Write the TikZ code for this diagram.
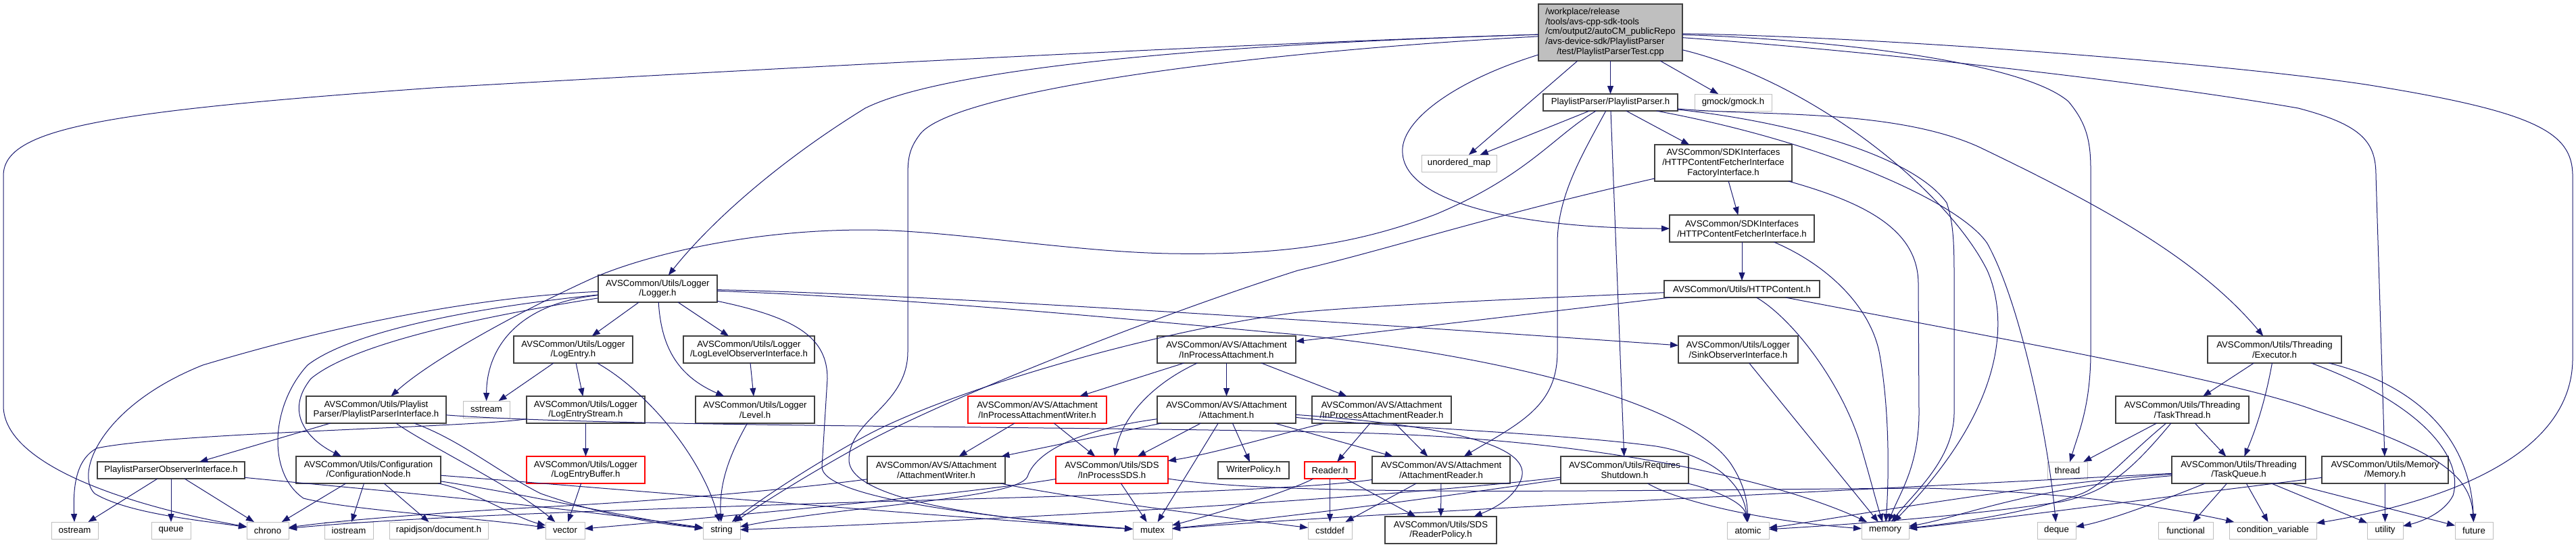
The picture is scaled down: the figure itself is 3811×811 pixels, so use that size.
\documentclass[tikz,border=0pt]{standalone}
\usepackage{fontspec}
\setmainfont{Liberation Sans}
\usetikzlibrary{arrows.meta}
\definecolor{eb}{HTML}{191970}
\definecolor{gb}{HTML}{BFBFBF}
\definecolor{bb}{HTML}{404040}
\tikzset{
 nb/.style={draw=bb, line width=0.6pt, rectangle, inner sep=0pt, outer sep=0pt, align=center, font=\fontsize{6.6pt}{7.4pt}\selectfont},
 sysb/.style={nb, draw=gb, line width=0.5pt},
 redb/.style={nb, draw=red},
 e/.style={draw=eb, line width=0.5pt, -{Triangle[length=6pt,width=4.5pt]}},
}
\begin{document}
\begin{tikzpicture}[x=0.5pt,y=-0.5pt]
\useasboundingbox (0,0) rectangle (3811,811);
\fill[white] (0,0) rectangle (3811,811);
% nodes
\node[nb, fill=gb, minimum width=106.5pt, minimum height=42pt] (main) at (2382.5,48) {\begin{tabular}{@{}l@{}}/workplace/release\\/tools/avs-cpp-sdk-tools\\/cm/output2/autoCM\_publicRepo\\/avs-device-sdk/PlaylistParser\\\multicolumn{1}{@{}c@{}}{/test/PlaylistParserTest.cpp}\end{tabular}};
\node[nb, minimum width=99.5pt, minimum height=12.5pt] (pp) at (2382.5,151.5) {PlaylistParser/PlaylistParser.h};
\node[sysb, minimum width=57pt, minimum height=12.5pt] (gmock) at (2564,151.5) {gmock/gmock.h};
\node[sysb, minimum width=55.5pt, minimum height=12.5pt] (umap) at (2158.5,241.5) {unordered\_map};
\node[nb, minimum width=101.5pt, minimum height=27pt] (fact) at (2549.5,241) {AVSCommon/SDKInterfaces\\/HTTPContentFetcherInterface\\FactoryInterface.h};
\node[nb, minimum width=107pt, minimum height=20pt] (hcfi) at (2577,338) {AVSCommon/SDKInterfaces\\/HTTPContentFetcherInterface.h};
\node[nb, minimum width=115pt, minimum height=12.5pt] (hc) at (2577,427.5) {AVSCommon/Utils/HTTPContent.h};
\node[nb, minimum width=88.5pt, minimum height=20pt] (sink) at (2571.5,517) {AVSCommon/Utils/Logger\\/SinkObserverInterface.h};
\node[nb, minimum width=88pt, minimum height=20pt] (logger) at (973,427) {AVSCommon/Utils/Logger\\/Logger.h};
\node[nb, minimum width=88pt, minimum height=20pt] (logentry) at (848,517) {AVSCommon/Utils/Logger\\/LogEntry.h};
\node[nb, minimum width=97pt, minimum height=20pt] (loglevelobs) at (1108,517) {AVSCommon/Utils/Logger\\/LogLevelObserverInterface.h};
\node[sysb, minimum width=34.5pt, minimum height=12.5pt] (sstream) at (719.5,605.5) {sstream};
\node[nb, minimum width=87.5pt, minimum height=20pt] (logentrystream) at (866.5,606) {AVSCommon/Utils/Logger\\/LogEntryStream.h};
\node[nb, minimum width=88pt, minimum height=20pt] (level) at (1117,606) {AVSCommon/Utils/Logger\\/Level.h};
\node[redb, minimum width=87.5pt, minimum height=20pt] (logentrybuf) at (866.5,695) {AVSCommon/Utils/Logger\\/LogEntryBuffer.h};
\node[nb, minimum width=103.5pt, minimum height=20pt] (ppi) at (556.5,606) {AVSCommon/Utils/Playlist\\Parser/PlaylistParserInterface.h};
\node[nb, minimum width=107pt, minimum height=20pt] (confnode) at (545,695) {AVSCommon/Utils/Configuration\\/ConfigurationNode.h};
\node[nb, minimum width=109pt, minimum height=12.5pt] (ppobs) at (253,695.5) {PlaylistParserObserverInterface.h};
\node[nb, minimum width=102.5pt, minimum height=20pt] (ipa) at (1814.5,517) {AVSCommon/AVS/Attachment\\/InProcessAttachment.h};
\node[redb, minimum width=102.5pt, minimum height=20pt] (ipaw) at (1534.5,606) {AVSCommon/AVS/Attachment\\/InProcessAttachmentWriter.h};
\node[nb, minimum width=102.5pt, minimum height=20pt] (att) at (1814.5,606) {AVSCommon/AVS/Attachment\\/Attachment.h};
\node[nb, minimum width=103pt, minimum height=20pt] (ipar) at (2044,606) {AVSCommon/AVS/Attachment\\/InProcessAttachmentReader.h};
\node[nb, minimum width=102pt, minimum height=20pt] (aw) at (1385,695) {AVSCommon/AVS/Attachment\\/AttachmentWriter.h};
\node[redb, minimum width=83pt, minimum height=20pt] (ipsds) at (1645,695) {AVSCommon/Utils/SDS\\/InProcessSDS.h};
\node[nb, minimum width=52.5pt, minimum height=12.5pt] (wp) at (1854.5,695.5) {WriterPolicy.h};
\node[redb, minimum width=37.5pt, minimum height=12.5pt] (reader) at (1967.5,695.5) {Reader.h};
\node[nb, minimum width=102pt, minimum height=20pt] (ar) at (2132,695) {AVSCommon/AVS/Attachment\\/AttachmentReader.h};
\node[nb, minimum width=94.5pt, minimum height=20pt] (rs) at (2403.5,695) {AVSCommon/Utils/Requires\\Shutdown.h};
\node[nb, minimum width=82.5pt, minimum height=20pt] (rp) at (2131.5,784) {AVSCommon/Utils/SDS\\/ReaderPolicy.h};
\node[nb, minimum width=99pt, minimum height=20pt] (exec) at (3365,517) {AVSCommon/Utils/Threading\\/Executor.h};
\node[nb, minimum width=98.5pt, minimum height=20pt] (tthread) at (3228.5,606) {AVSCommon/Utils/Threading\\/TaskThread.h};
\node[nb, minimum width=99pt, minimum height=20pt] (tqueue) at (3312,695) {AVSCommon/Utils/Threading\\/TaskQueue.h};
\node[nb, minimum width=93.5pt, minimum height=20pt] (memh) at (3528.5,695) {AVSCommon/Utils/Memory\\/Memory.h};
\node[sysb, minimum width=29.5pt, minimum height=12.5pt] (thread) at (3058.5,695.5) {thread};
\node[sysb, minimum width=34.5pt, minimum height=12.5pt] (ostream) at (110.5,784.5) {ostream};
\node[sysb, minimum width=29pt, minimum height=12.5pt] (queue) at (253,784.5) {queue};
\node[sysb, minimum width=31pt, minimum height=12.5pt] (chrono) at (396,784.5) {chrono};
\node[sysb, minimum width=36pt, minimum height=12.5pt] (iostream) at (516,784.5) {iostream};
\node[sysb, minimum width=73pt, minimum height=12.5pt] (rapidjson) at (649,784.5) {rapidjson/document.h};
\node[sysb, minimum width=29pt, minimum height=12.5pt] (vector) at (836,784.5) {vector};
\node[sysb, minimum width=27.5pt, minimum height=12.5pt] (string) at (1067.5,784.5) {string};
\node[sysb, minimum width=29pt, minimum height=12.5pt] (mutex) at (1705,784.5) {mutex};
\node[sysb, minimum width=32.5pt, minimum height=12.5pt] (cstddef) at (1967.5,784.5) {cstddef};
\node[sysb, minimum width=31pt, minimum height=12.5pt] (atomic) at (2586,784.5) {atomic};
\node[sysb, minimum width=35pt, minimum height=12.5pt] (memory) at (2789,784.5) {memory};
\node[sysb, minimum width=28.5pt, minimum height=12.5pt] (deque) at (3042.5,784.5) {deque};
\node[sysb, minimum width=40.5pt, minimum height=12.5pt] (functional) at (3233.5,784.5) {functional};
\node[sysb, minimum width=64.5pt, minimum height=12.5pt] (condvar) at (3362.5,784.5) {condition\_variable};
\node[sysb, minimum width=26.5pt, minimum height=12.5pt] (utility) at (3528.5,784.5) {utility};
\node[sysb, minimum width=28pt, minimum height=12.5pt] (future) at (3660,784.5) {future};
% edges from main
\draw[e] (main) .. controls (1900,62) and (1250,95) .. (640,130) .. controls (150,165) and (5,190) .. (5,260) -- (5,600) .. controls (5,690) and (200,750) .. (chrono);
\draw[e] (main) .. controls (1700,68) and (1380,110) .. (1280,160) .. controls (1150,240) and (1050,330) .. (logger);
\draw[e] (main) .. controls (1800,80) and (1400,140) .. (1360,200) .. controls (1345,220) and (1343,235) .. (1343,260) -- (1343,520) .. controls (1343,600) and (1256,620) .. (1256,680) .. controls (1256,745) and (1500,770) .. (mutex);
\draw[e] (main) .. controls (2150,120) and (2070,180) .. (2075,227) .. controls (2080,300) and (2250,338) .. (hcfi);
\draw[e] (main) -- (umap);
\draw[e] (main) -- (pp);
\draw[e] (main) -- (gmock);
\draw[e] (main) .. controls (2800,55) and (3300,95) .. (3500,125) .. controls (3750,165) and (3806,195) .. (3806,260) -- (3806,530) .. controls (3806,680) and (3600,745) .. (condvar);
\draw[e] (main) .. controls (2800,78) and (3200,125) .. (3400,160) .. controls (3495,185) and (3515,210) .. (3515,260) -- (memh);
\draw[e] (main) .. controls (2700,58) and (2990,90) .. (3060,150) .. controls (3085,180) and (3093,205) .. (3093,250) -- (3093,520) .. controls (3093,600) and (3075,640) .. (thread);
\draw[e] (main) .. controls (2680,120) and (2880,280) .. (2940,400) .. controls (2975,480) and (2960,610) .. (memory);
% pp
\draw[e] (pp) -- (umap);
\draw[e] (pp) .. controls (2300,200) and (2260,260) .. (2124,317) .. controls (2010,360) and (1900,378) .. (1729,375) .. controls (1580,372) and (1400,340) .. (1280,340) .. controls (1100,340) and (950,380) .. (880,410) .. controls (780,455) and (640,530) .. (ppi);
\draw[e] (pp) .. controls (2340,230) and (2304,290) .. (2304,360) -- (2304,520) .. controls (2304,600) and (2250,625) .. (ar);
\draw[e] (pp) -- (rs);
\draw[e] (pp) -- (fact);
\draw[e] (pp) .. controls (2600,172) and (2800,160) .. (2927,217) .. controls (3100,300) and (3250,380) .. (exec);
\draw[e] (pp) .. controls (2650,180) and (2830,230) .. (2880,300) .. controls (2890,330) and (2891,360) .. (2891,410) -- (2891,610) .. controls (2891,680) and (2830,730) .. (memory);
\draw[e] (pp) .. controls (2700,210) and (2900,300) .. (2940,360) .. controls (2990,450) and (3030,650) .. (deque);
% fact, hcfi, hc, sink
\draw[e] (fact) -- (hcfi);
\draw[e] (fact) .. controls (2760,300) and (2838,340) .. (2838,420) -- (2839,610) .. controls (2839,690) and (2810,730) .. (memory);
\draw[e] (fact) .. controls (2200,320) and (2050,370) .. (1920,400) .. controls (1700,470) and (1400,590) .. (1280,655) .. controls (1180,710) and (1120,750) .. (string);
\draw[e] (hcfi) -- (hc);
\draw[e] (hcfi) .. controls (2700,390) and (2765,450) .. (2780,520) .. controls (2795,600) and (2795,700) .. (memory);
\draw[e] (hc) -- (ipa);
\draw[e] (hc) .. controls (2300,440) and (2050,450) .. (1920,462) .. controls (1700,490) and (1400,580) .. (1280,645) .. controls (1180,700) and (1110,750) .. (string);
\draw[e] (hc) .. controls (2650,470) and (2720,560) .. (2750,650) .. controls (2765,700) and (2775,740) .. (memory);
\draw[e] (hc) .. controls (2900,490) and (3300,560) .. (3425,607) .. controls (3600,665) and (3655,700) .. (future);
\draw[e] (sink) -- (memory);
% logger
\draw[e] (logger) -- (logentry);
\draw[e] (logger) -- (loglevelobs);
\draw[e] (logger) .. controls (978,510) and (1000,555) .. (level);
\draw[e] (logger) .. controls (760,450) and (720,520) .. (sstream);
\draw[e] (logger) .. controls (1300,433) and (1900,470) .. (sink);
\draw[e] (logger) .. controls (1400,443) and (1800,485) .. (1920,495) .. controls (2250,530) and (2500,600) .. (2560,685) .. controls (2580,715) and (2585,740) .. (atomic);
\draw[e] (logger) .. controls (1180,470) and (1224,500) .. (1224,560) -- (1216,690) .. controls (1214,735) and (1450,765) .. (mutex);
\draw[e] (logger) .. controls (700,440) and (500,480) .. (300,540) .. controls (150,600) and (110,700) .. (140,730) .. controls (190,760) and (300,770) .. (chrono);
\draw[e] (logger) .. controls (700,470) and (520,510) .. (460,560) .. controls (420,610) and (455,650) .. (confnode);
\draw[e] (logger) .. controls (700,455) and (520,490) .. (455,540) .. controls (400,600) and (395,700) .. (449,737) .. controls (520,755) and (700,765) .. (vector);
% logger children
\draw[e] (logentry) -- (sstream);
\draw[e] (logentry) -- (logentrystream);
\draw[e] (logentry) .. controls (960,580) and (1040,680) .. (string);
\draw[e] (loglevelobs) -- (level);
\draw[e] (logentrystream) -- (logentrybuf);
\draw[e] (logentrystream) .. controls (700,632) and (250,640) .. (143,663) .. controls (112,680) and (108,720) .. (ostream);
\draw[e] (level) .. controls (1075,680) and (1064,720) .. (string);
\draw[e] (logentrybuf) -- (vector);
% ppi, ppobs, confnode
\draw[e] (ppi) -- (ppobs);
\draw[e] (ppi) .. controls (680,650) and (740,700) .. (800,730) .. controls (900,765) and (980,775) .. (string);
\draw[e] (ppi) .. controls (640,663) and (760,720) .. (vector);
\draw[e] (ppi) .. controls (900,632) and (1600,630) .. (2000,640) .. controls (2400,650) and (2650,720) .. (memory);
\draw[e] (ppobs) -- (ostream);
\draw[e] (ppobs) -- (queue);
\draw[e] (ppobs) -- (chrono);
\draw[e] (ppobs) .. controls (500,720) and (800,745) .. (string);
\draw[e] (confnode) -- (chrono);
\draw[e] (confnode) -- (iostream);
\draw[e] (confnode) -- (rapidjson);
\draw[e] (confnode) .. controls (700,725) and (760,765) .. (vector);
\draw[e] (confnode) .. controls (800,735) and (950,770) .. (string);
\draw[e] (confnode) .. controls (900,722) and (1400,765) .. (mutex);
% attachments
\draw[e] (ipa) -- (ipaw);
\draw[e] (ipa) -- (att);
\draw[e] (ipa) -- (ipar);
\draw[e] (ipa) .. controls (1700,570) and (1660,620) .. (ipsds);
\draw[e] (ipaw) -- (aw);
\draw[e] (ipaw) -- (ipsds);
\draw[e] (att) -- (aw);
\draw[e] (att) -- (ipsds);
\draw[e] (att) -- (mutex);
\draw[e] (att) -- (wp);
\draw[e] (att) -- (ar);
\draw[e] (att) .. controls (2150,630) and (2270,660) .. (2250,710) .. controls (2240,735) and (2215,750) .. (rp);
\draw[e] (att) .. controls (1620,632) and (1535,660) .. (1520,705) .. controls (1505,738) and (1250,748) .. (string);
\draw[e] (att) .. controls (2050,632) and (2300,640) .. (2450,660) .. controls (2540,675) and (2580,720) .. (atomic);
\draw[e] (ipar) -- (reader);
\draw[e] (ipar) -- (ar);
\draw[e] (ipar) .. controls (1900,640) and (1800,670) .. (ipsds);
\draw[e] (reader) -- (cstddef);
\draw[e] (reader) -- (rp);
\draw[e] (reader) .. controls (1900,730) and (1780,765) .. (mutex);
\draw[e] (ar) -- (cstddef);
\draw[e] (ar) -- (rp);
\draw[e] (ar) .. controls (1900,728) and (1500,735) .. (1200,745) .. controls (900,755) and (600,765) .. (chrono);
\draw[e] (aw) .. controls (1200,720) and (1000,740) .. (800,750) .. controls (650,758) and (500,770) .. (chrono);
\draw[e] (aw) .. controls (1600,740) and (1850,770) .. (cstddef);
\draw[e] (rs) .. controls (2480,740) and (2600,770) .. (memory);
\draw[e] (rs) .. controls (2520,720) and (2580,740) .. (atomic);
\draw[e] (rs) .. controls (2100,740) and (1900,765) .. (mutex);
\draw[e] (rs) .. controls (2000,742) and (1400,772) .. (string);
\draw[e] (ipsds) -- (mutex);
\draw[e] (ipsds) .. controls (1400,735) and (1000,770) .. (vector);
\draw[e] (ipsds) .. controls (1900,735) and (2400,725) .. (2846,722) .. controls (3100,728) and (3250,760) .. (condvar);
% threading
\draw[e] (exec) -- (tthread);
\draw[e] (exec) .. controls (3350,600) and (3335,640) .. (tqueue);
\draw[e] (exec) .. controls (3590,600) and (3645,680) .. (3629,733) .. controls (3615,760) and (3580,772) .. (utility);
\draw[e] (exec) .. controls (3590,573) and (3655,660) .. (future);
\draw[e] (tthread) -- (thread);
\draw[e] (tthread) -- (tqueue);
\draw[e] (tthread) .. controls (3140,680) and (3110,718) .. (3080,730) .. controls (3000,760) and (2880,775) .. (memory);
\draw[e] (tthread) .. controls (3150,700) and (3115,728) .. (3050,742) .. controls (2900,765) and (2700,778) .. (atomic);
\draw[e] (tqueue) -- (functional);
\draw[e] (tqueue) -- (condvar);
\draw[e] (tqueue) -- (utility);
\draw[e] (tqueue) -- (future);
\draw[e] (tqueue) .. controls (3200,740) and (3120,770) .. (deque);
\draw[e] (tqueue) .. controls (3000,722) and (2900,765) .. (memory);
\draw[e] (tqueue) .. controls (3000,715) and (2700,770) .. (atomic);
\draw[e] (tqueue) .. controls (2800,722) and (2000,760) .. (mutex);
\draw[e] (memh) -- (utility);
\draw[e] (memh) .. controls (3200,735) and (2900,775) .. (memory);
\end{tikzpicture}
\end{document}
